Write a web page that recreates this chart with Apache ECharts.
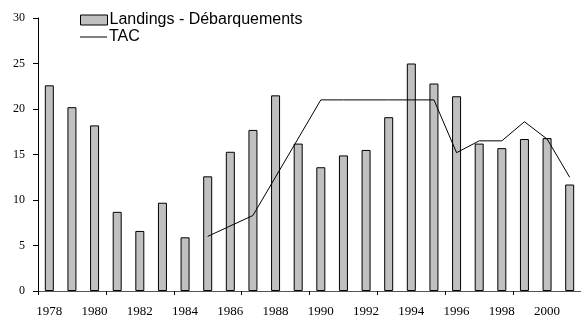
<!DOCTYPE html>
<html>
<head>
<meta charset="utf-8">
<script src="https://cdn.jsdelivr.net/npm/echarts@6/dist/echarts.min.js"></script>
<style>
  html, body { margin: 0; padding: 0; background: #fff; }
  #chart { width: 581px; height: 319px; }
</style>
</head>
<body>
<div id="chart"></div>
<script>
const years = ['1978', '1979', '1980', '1981', '1982', '1983', '1984', '1985', '1986', '1987', '1988', '1989',
  '1990', '1991', '1992', '1993', '1994', '1995', '1996', '1997', '1998', '1999', '2000', '2001']
const landings = [22.6, 20.2, 18.2, 8.7, 6.6, 9.7, 5.9, 12.6, 15.3, 17.7, 21.5, 16.2,
  13.6, 14.9, 15.5, 19.1, 25.0, 22.8, 21.4, 16.2, 15.7, 16.7, 16.8, 11.7]
// TAC only where the line has a vertex
const tac = [null, null, null, null, null, null, null, 6.0, null, 8.3, null, null,
  21, 21, 21, 21, 21, 21, 15.2, 16.5, 16.5, 18.6, 16.7, 12.5]
const yTicks = { min: 0, max: 30, interval: 5 }

const chart = echarts.init(document.getElementById('chart'))

const legendText = { fontFamily: 'Liberation Sans', fontSize: 16, color: '#000', padding: [0, 0, 0, -3] }

chart.setOption({
  animation: false,
  grid: { left: 38, top: 18, width: 545, bottom: 28 },
  legend: [
    {
      left: 80,
      top: 12,
      padding: 0,
      icon: 'rect',
      itemWidth: 27,
      itemHeight: 10,
      itemStyle: { color: '#c0c0c0', borderColor: '#000', borderWidth: 1 },
      textStyle: legendText,
      data: ['Landings - Débarquements'],
    },
    {
      // the TAC entry gets a flat line for a key
      left: 80,
      top: 29,
      padding: 0,
      icon: 'rect',
      itemWidth: 27,
      itemHeight: 1,
      itemStyle: { color: '#000', borderWidth: 0 },
      textStyle: legendText,
      data: ['TAC'],
    },
  ],
  xAxis: {
    type: 'category',
    data: years,
    axisLine: { lineStyle: { color: '#555', width: 1 } },
    axisTick: { show: true, interval: 2, length: 4, lineStyle: { color: '#000' } },
    axisLabel: { interval: 1, margin: 14, fontFamily: 'Liberation Serif', fontSize: 13, color: '#000' },
  },
  yAxis: {
    type: 'value',
    min: yTicks.min,
    max: yTicks.max,
    interval: yTicks.interval,
    axisLine: { show: true, lineStyle: { color: '#000', width: 1 } },
    axisTick: { show: true, length: 5, lineStyle: { color: '#000' } },
    axisLabel: { margin: 13, fontFamily: 'Liberation Serif', fontSize: 12, color: '#000' },
    splitLine: { show: false },
  },
  series: [
    {
      name: 'Landings - Débarquements',
      type: 'bar',
      data: landings,
      barWidth: 9,
      itemStyle: { color: '#c0c0c0', borderColor: '#000', borderWidth: 1 },
    },
    {
      name: 'TAC',
      type: 'line',
      data: tac,
      connectNulls: true,
      symbol: 'none',
      lineStyle: { color: '#000', width: 1 },
      itemStyle: { color: '#000' },
    },
  ],
})
</script>
</body>
</html>
